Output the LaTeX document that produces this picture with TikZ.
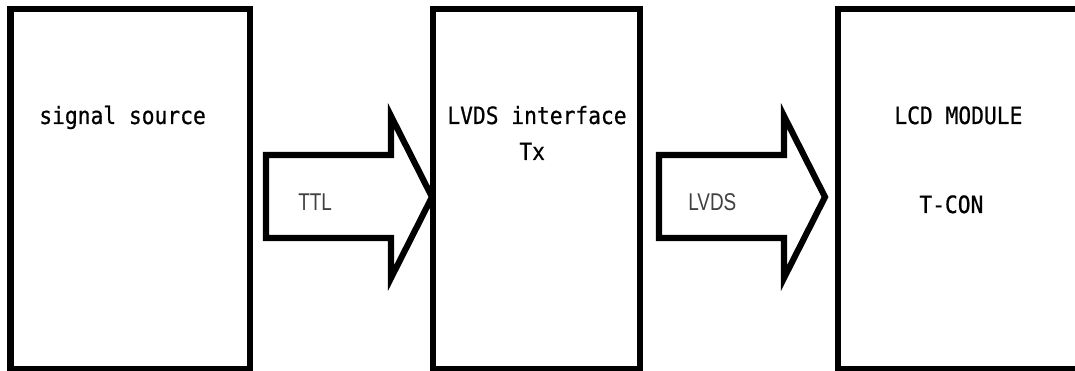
\documentclass[tikz,border=0pt]{standalone}
\usepackage{fontspec}
\usepackage{tikz}
\setmonofont{DejaVu Sans Mono}[FakeStretch=0.89, FakeBold=0.6]
\newfontfamily\labelfont{Liberation Sans}[FakeStretch=0.78]
\usetikzlibrary{positioning,calc}

\tikzset{
  blk/.style={draw, line width=3.7pt, inner sep=0pt, minimum height=7.2cm},
  txt/.style={anchor=base west, inner sep=0pt, font=\ttfamily\fontsize{13.6pt}{16pt}\selectfont},
  sig/.style={anchor=base west, inner sep=0pt, text=black!75, font=\labelfont\fontsize{13.8pt}{16pt}\selectfont},
  fat/.style={line width=3.5pt, line join=miter}
}

\begin{document}
\begin{tikzpicture}[x=0.02cm, y=-0.02cm]
    \useasboundingbox (0,0) rectangle (1075,371);

    % boxes
    \node[blk, minimum width=4.79cm] (src) at (130.25,189) {};
    \node[blk, minimum width=4.14cm] (tx)  at (536.5,189) {};
    \node[blk, minimum width=4.84cm] (lcd) at (959,189) {};

    % box texts
    \node[txt] (srcname) at (39,124) {signal source};
    \node[txt] (txname)  at (447,124) {LVDS interface};
    \node[txt] (txsub)   at (519,160) {Tx};
    \node[txt] (lcdname) at (894,124) {LCD MODULE};
    \node[txt] (lcdsub)  at (919,213) {T-CON};

    % TTL arrow
    \draw[fat] (266,155) -- (391,155) -- (391,116) -- (432,197)
               -- (391,278) -- (391,238) -- (266,238) -- cycle;
    \node[sig] (ttl) at (298,211) {TTL};

    % LVDS arrow
    \draw[fat] (659,155) -- (784,155) -- (784,116) -- (825,197)
               -- (784,278) -- (784,238) -- (659,238) -- cycle;
    \node[sig] (lvds) at (688,211) {LVDS};
\end{tikzpicture}
\end{document}
